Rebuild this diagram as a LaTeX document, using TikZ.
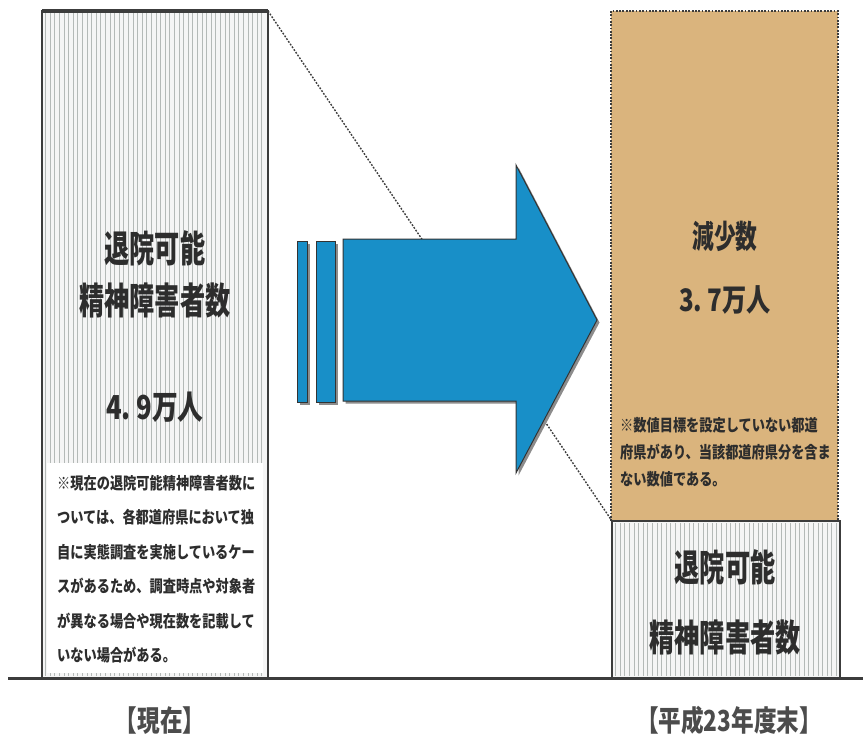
\documentclass[tikz,border=0pt]{standalone}
\usepackage{fontspec}
\usepackage{graphicx}
\newfontfamily\jpbig[FakeStretch=0.68]{Noto Sans CJK JP}
\newfontfamily\jpmid[FakeStretch=0.78]{Noto Sans CJK JP}
\newfontfamily\jpnote[FakeStretch=0.8]{Noto Sans CJK JP}
\definecolor{txt}{RGB}{45,45,45}
\definecolor{frame}{RGB}{60,60,60}
\definecolor{tan}{RGB}{218,180,125}
\definecolor{arrowblue}{RGB}{24,143,200}
\definecolor{hatchc}{RGB}{180,185,183}
\tikzset{
  bigtxt/.style={font=\jpbig\bfseries\fontsize{37}{40}\selectfont, text=txt, inner sep=0pt},
  numtxt/.style={font=\jpmid\bfseries\fontsize{33}{36}\selectfont, text=txt, inner sep=0pt},
  tantxt/.style={font=\jpbig\bfseries\fontsize{32}{34}\selectfont, text=txt, inner sep=0pt},
  tannum/.style={font=\jpmid\bfseries\fontsize{31}{34}\selectfont, text=txt, inner sep=0pt},
  notetxt/.style={font=\jpnote\bfseries\fontsize{16.5}{34.5}\selectfont, text=txt, inner sep=0pt, align=left},
  tannote/.style={font=\jpnote\bfseries\fontsize{16.5}{27}\selectfont, text=txt, inner sep=0pt, align=left},
  labeltxt/.style={font=\jpmid\bfseries\fontsize{29}{32}\selectfont, text=black!70, inner sep=0pt},
  hatch/.style={draw=hatchc, line width=0.8pt},
  barframe/.style={draw=frame, line width=2.5pt},
  dotline/.style={draw=frame, line width=1.4pt, dash pattern=on 1.8pt off 1.5pt},
  arrowshape/.style={fill=arrowblue, draw=black!80, line width=1pt},
  shadowshape/.style={fill=black!45},
}
\begin{document}
\begin{tikzpicture}[x=1pt,y=-1pt]
\useasboundingbox (0,0) rectangle (863,742);
\fill[white] (0,0) rectangle (863,742);

% ---- left bar ----
\fill[black!4] (42,11) rectangle (268,678);
\foreach \x in {45.5,50.1,...,266} \draw[hatch] (\x,13) -- (\x,676);
\fill[white] (47,463) rectangle (263,673);
\draw[barframe] (42,678) -- (42,11) -- (268,11) -- (268,678);
\draw[frame, line width=3.5pt] (42,11) -- (268,11);

\node[bigtxt] (lt1) at (155,248) {退院可能};
\node[bigtxt] (lt2) at (155,300) {精神障害者数};
\node[numtxt] (ln) at (155,407) {4.\,9万人};
\node[notetxt, anchor=west] (lnote) at (57,569) {※現在の退院可能精神障害者数に\\ついては、各都道府県において独\\自に実態調査を実施しているケー\\スがあるため、調査時点や対象者\\が異なる場合や現在数を記載して\\いない場合がある。};

% ---- right tan box ----
\fill[tan] (611,11) rectangle (838,521);
\draw[dotline] (611,521) -- (611,11) -- (838,11) -- (838,521);
\node[tantxt] (rt1) at (725,236) {減少数};
\node[tannum] (rn) at (725,300) {3.\,7万人};
\node[tannote, anchor=west] (rnote) at (620,452) {※数値目標を設定していない都道\\府県があり、当該都道府県分を含ま\\ない数値である。};

% ---- right lower box ----
\fill[black!4] (612,521) rectangle (840,678);
\foreach \x in {615.5,620.1,...,838} \draw[hatch] (\x,523) -- (\x,676);
\draw[barframe] (612,678) -- (612,521) -- (840,521) -- (840,678);
\node[bigtxt] (rb1) at (725,567) {退院可能};
\node[bigtxt] (rb2) at (725,637) {精神障害者数};

% ---- dotted guide ----
\coordinate (ltr) at (268,11);
\coordinate (rtl) at (612,521);
\draw[dotline] (ltr) -- (rtl);

% ---- arrow ----
\begin{scope}[shift={(2.5,2.5)}]
\fill[shadowshape] (297,241) rectangle (307,402);
\fill[shadowshape] (316,241) rectangle (335,402);
\fill[shadowshape] (343,239) -- (516,239) -- (516,165) -- (597,320) -- (516,473) -- (516,401) -- (343,401) -- cycle;
\end{scope}
\draw[arrowshape] (297,241) rectangle (307,402);
\draw[arrowshape] (316,241) rectangle (335,402);
\draw[arrowshape] (343,239) -- (516,239) -- (516,165) -- (597,320) -- (516,473) -- (516,401) -- (343,401) -- cycle;

% ---- baseline ----
\coordinate (bl) at (8,678);
\coordinate (br) at (863,678);
\draw[frame, line width=3pt] (bl) -- (br);

% ---- labels ----
\node[labeltxt] (lab1) at (160,721) {【現在】};
\node[labeltxt] (lab2) at (729,720) {【平成23年度末】};
\end{tikzpicture}
\end{document}
